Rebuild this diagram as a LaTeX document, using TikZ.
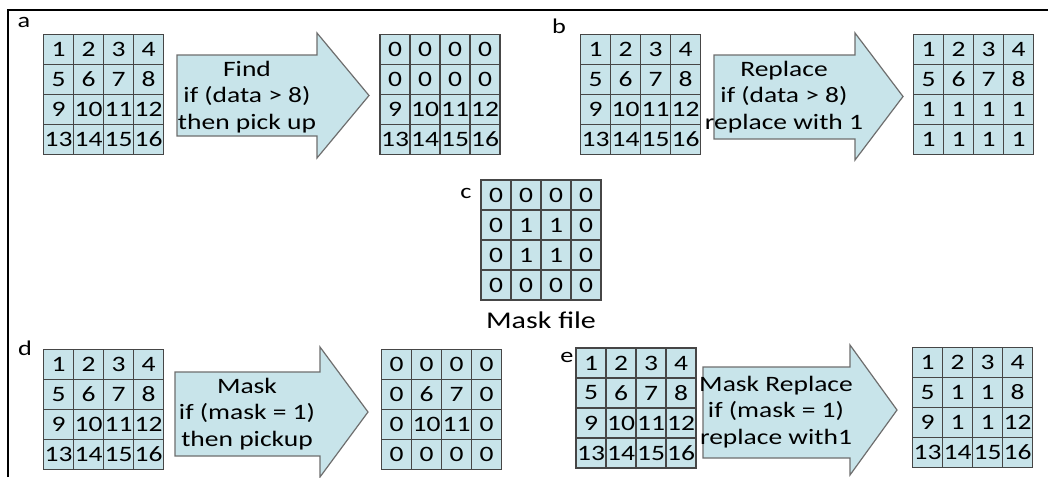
\documentclass[tikz,border=0pt]{standalone}
\usepackage{fontspec}
\setmainfont{Carlito}[FakeStretch=1.25]
\usetikzlibrary{matrix}
\definecolor{cellc}{RGB}{200,228,234}
\definecolor{gridc}{RGB}{70,70,70}
\definecolor{arrc}{RGB}{110,110,110}
\newcommand{\cellfont}{\fontsize{22}{24}\selectfont}
\newcommand{\arrfont}{\fontsize{22}{26.7}\selectfont}
\newcommand{\labfont}{\fontsize{21}{24}\selectfont}
\tikzset{
  cell/.style={draw=gridc, fill=cellc, line width=1.2pt, minimum width=30pt,
    minimum height=30pt, inner sep=0pt, font=\cellfont, anchor=center},
  grid/.style={matrix of nodes, nodes={cell}, column sep=-1.2pt, row sep=-1.2pt,
    inner sep=0pt, anchor=center},
  arr/.style={draw=arrc, fill=cellc, line width=1.2pt, line join=miter},
  arrtext/.style={align=center, font=\arrfont, inner sep=0pt},
  lab/.style={font=\labfont, anchor=base, inner sep=0pt},
  frame/.style={draw=black, line width=2pt}
}
\begin{document}
\begin{tikzpicture}[x=1pt,y=-1pt]
\useasboundingbox (0,0) rectangle (1048,477);
\fill[white] (0,0) rectangle (1048,477);
% frame
\coordinate (f1) at (8,477);
\coordinate (f2) at (8,10);
\coordinate (f3) at (1048,10);
\draw[frame] (f1) -- (f2) -- (f3);

% ---- panel a
\node[lab] (la) at (24,27) {a};
\matrix (ga) [grid] at (103.5,94.5) {
1 & 2 & 3 & 4\\ 5 & 6 & 7 & 8\\ 9 & 10 & 11 & 12\\ 13 & 14 & 15 & 16\\};
\draw[arr] (177,55) -- (317,55) -- (317,33) -- (369,95.5) -- (317,158) -- (317,136) -- (177,136) -- cycle;
\node[arrtext] (ta) at (247,97) {Find\\if (data > 8)\\then pick up};
\matrix (gao) [grid] at (440,94.5) {
0 & 0 & 0 & 0\\ 0 & 0 & 0 & 0\\ 9 & 10 & 11 & 12\\ 13 & 14 & 15 & 16\\};

% ---- panel b
\node[lab] (lb) at (559,33) {b};
\matrix (gb) [grid] at (640.5,94.5) {
1 & 2 & 3 & 4\\ 5 & 6 & 7 & 8\\ 9 & 10 & 11 & 12\\ 13 & 14 & 15 & 16\\};
\draw[arr] (714,55) -- (855,55) -- (855,33) -- (903,96.5) -- (855,160) -- (855,139) -- (714,139) -- cycle;
\node[arrtext] (tb) at (784,97) {Replace\\if (data > 8)\\replace with 1};
\matrix (gbo) [grid] at (973.5,94.5) {
1 & 2 & 3 & 4\\ 5 & 6 & 7 & 8\\ 1 & 1 & 1 & 1\\ 1 & 1 & 1 & 1\\};

% ---- panel c
\node[lab] (lc) at (466,198) {c};
\matrix (gc) [grid] at (541,240) {
0 & 0 & 0 & 0\\ 0 & 1 & 1 & 0\\ 0 & 1 & 1 & 0\\ 0 & 0 & 0 & 0\\};
\node[font=\fontsize{24}{28}\selectfont, anchor=base, inner sep=0pt] (mf) at (541,328) {Mask file};

% ---- panel d
\node[lab] (ld) at (25,355) {d};
\matrix (gd) [grid] at (103.5,409.5) {
1 & 2 & 3 & 4\\ 5 & 6 & 7 & 8\\ 9 & 10 & 11 & 12\\ 13 & 14 & 15 & 16\\};
\draw[arr] (175,372) -- (320,372) -- (320,347) -- (368,412) -- (320,477) -- (320,456) -- (175,456) -- cycle;
\node[arrtext] (td) at (247,414) {Mask\\if (mask = 1)\\then pickup};
\matrix (gdo) [grid] at (441.5,409.5) {
0 & 0 & 0 & 0\\ 0 & 6 & 7 & 0\\ 0 & 10 & 11 & 0\\ 0 & 0 & 0 & 0\\};

% ---- panel e
\node[lab] (le) at (567,362) {e};
\matrix (ge) [grid] at (636,408) {
1 & 2 & 3 & 4\\ 5 & 6 & 7 & 8\\ 9 & 10 & 11 & 12\\ 13 & 14 & 15 & 16\\};
\draw[arr] (703,367) -- (850,367) -- (850,345) -- (897,410) -- (850,475) -- (850,458) -- (703,458) -- cycle;
\node[arrtext] (te) at (776,412) {Mask Replace\\if (mask = 1)\\replace with1};
\matrix (geo) [grid] at (972.5,407.5) {
1 & 2 & 3 & 4\\ 5 & 1 & 1 & 8\\ 9 & 1 & 1 & 12\\ 13 & 14 & 15 & 16\\};
\end{tikzpicture}
\end{document}
